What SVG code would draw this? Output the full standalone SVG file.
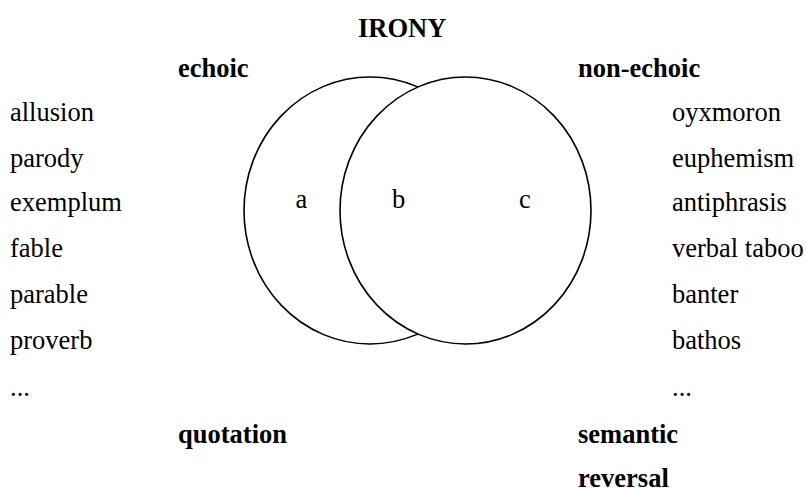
<svg xmlns="http://www.w3.org/2000/svg" width="806" height="492" viewBox="0 0 806 492">
<style>
text{font-family:"Liberation Serif","Times New Roman",serif;font-size:26.5px;fill:#000}
.b{font-weight:bold}
.c{fill:#fff;stroke:#000;stroke-width:1.6}
</style>
<rect width="806" height="492" fill="#fff"/>
<g id="title"><text class="b" x="358" y="37">IRONY</text></g>
<g id="set-echoic">
<ellipse class="c" cx="370" cy="210.5" rx="126" ry="133.5"/>
<text class="b" x="178" y="77">echoic</text>
</g>
<g id="set-nonechoic">
<ellipse class="c" cx="465.5" cy="210.5" rx="125.5" ry="133.5"/>
<text class="b" x="578" y="77">non-echoic</text>
</g>
<g id="regions">
<text x="295.5" y="208">a</text>
<text x="392" y="208">b</text>
<text x="519" y="208">c</text>
</g>
<g id="list-echoic">
<text x="10" y="120.7">allusion</text>
<text x="10" y="166.5">parody</text>
<text x="10" y="211">exemplum</text>
<text x="10" y="257.3">fable</text>
<text x="10" y="303.3">parable</text>
<text x="10" y="349.3">proverb</text>
<text x="10" y="396">...</text>
</g>
<g id="list-nonechoic">
<text x="672" y="120.7">oyxmoron</text>
<text x="672" y="166.5">euphemism</text>
<text x="672" y="211">antiphrasis</text>
<text x="672" y="257">verbal taboo</text>
<text x="672" y="303.3">banter</text>
<text x="672" y="349.3">bathos</text>
<text x="672" y="396">...</text>
</g>
<g id="footer-left"><text class="b" x="178" y="442.5">quotation</text></g>
<g id="footer-right">
<text class="b" x="578" y="442.5">semantic</text>
<text class="b" x="578" y="486.5">reversal</text>
</g>
</svg>
